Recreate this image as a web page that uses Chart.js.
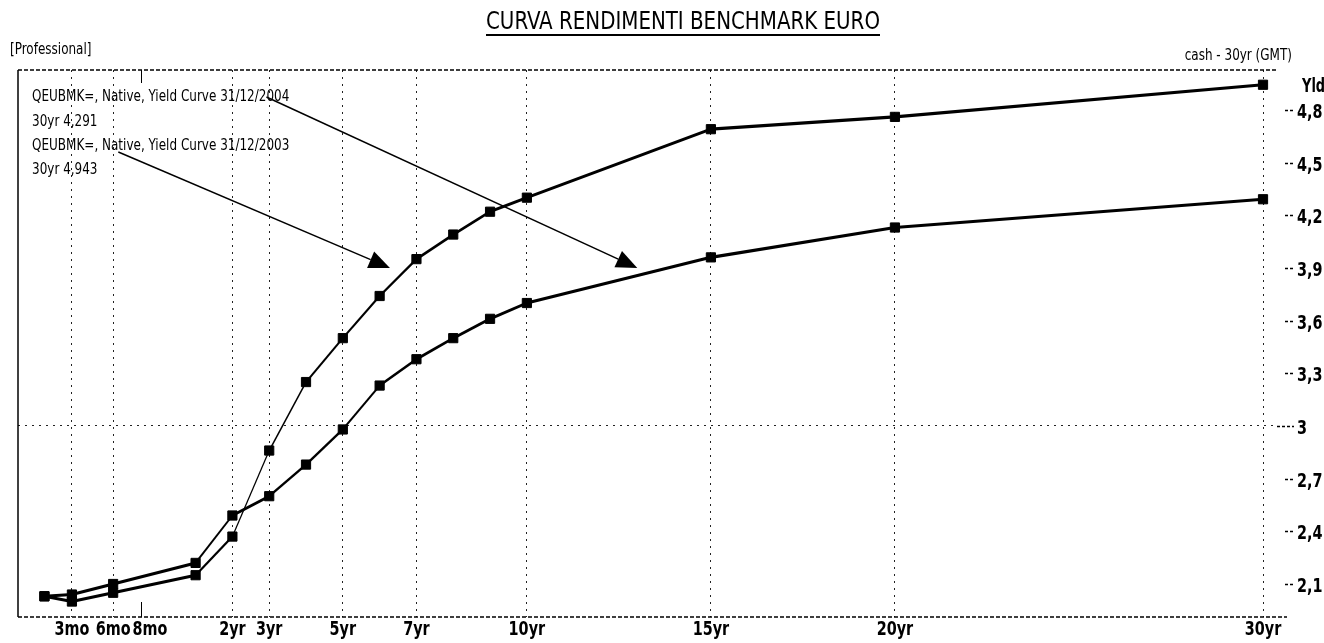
<!DOCTYPE html>
<html>
<head>
<meta charset="utf-8">
<script src="https://cdn.jsdelivr.net/npm/chart.js@4.4.0/dist/chart.umd.min.js"></script>
<style>
  html, body { margin: 0; padding: 0; background: #fff; }
  canvas { display: block; }
</style>
</head>
<body>
<canvas id="myChart" width="1324" height="643"></canvas>
<script>
// maturities (years) of the curve points
const maturityYears = [1 / 12, 0.25, 0.5, 1, 2, 3, 4, 5, 6, 7, 8, 9, 10, 15, 20, 30];
// yields
const yield2004 = [2.03, 2.04, 2.10, 2.22, 2.49, 2.60, 2.78, 2.98, 3.23, 3.38, 3.50, 3.61, 3.70, 3.96, 4.13, 4.291];
const yield2003 = [2.03, 2.00, 2.05, 2.15, 2.37, 2.86, 3.25, 3.50, 3.74, 3.95, 4.09, 4.22, 4.30, 4.69, 4.76, 4.943];

const xTickYears = [0.25, 0.5, 8 / 12, 2, 3, 5, 7, 10, 15, 20, 30];
const xTickLabels = ['3mo', '6mo', '8mo', '2yr', '3yr', '5yr', '7yr', '10yr', '15yr', '20yr', '30yr'];
const yTicks = [2.1, 2.4, 2.7, 3, 3.3, 3.6, 3.9, 4.2, 4.5, 4.8];

const legendLines = [
  'QEUBMK=, Native, Yield Curve 31/12/2004',
  '30yr 4,291',
  'QEUBMK=, Native, Yield Curve 31/12/2003',
  '30yr 4,943',
];

const NARROW = '"Liberation Sans Narrow", "DejaVu Sans Condensed", "Arial Narrow", sans-serif';

// short end of the axis (under 1yr) is stretched like on the original screen
const SHORT_STRETCH = 4.48;
class WarpScale extends Chart.LinearScale {
  static id = 'warp';
  static defaults = Chart.LinearScale.defaults;
  warp(v) {
    return v <= 1 ? v * SHORT_STRETCH : SHORT_STRETCH + (v - 1);
  }
  unwarp(u) {
    return u <= SHORT_STRETCH ? u / SHORT_STRETCH : u - SHORT_STRETCH + 1;
  }
  getPixelForValue(value) {
    const a = this.warp(this.min);
    const b = this.warp(this.max);
    return this.getPixelForDecimal((this.warp(value) - a) / (b - a));
  }
  getValueForPixel(pixel) {
    const a = this.warp(this.min);
    const b = this.warp(this.max);
    return this.unwarp(a + this.getDecimalForPixel(pixel) * (b - a));
  }
}
Chart.register(WarpScale);

const toPoints = (ys) => ys.map((y, i) => ({ x: maturityYears[i], y: y }));

// thinner strokes on steep pieces, like the original renderer
const segWidth = (ctx) => {
  const dx = ctx.p1.x - ctx.p0.x;
  const dy = ctx.p1.y - ctx.p0.y;
  return Math.max(1.2, 3.2 * Math.abs(dx) / Math.hypot(dx, dy));
};

// tall, squeezed text like the old terminal font
function narrowText(ctx, text, x, y, align, font, sx) {
  ctx.save();
  ctx.font = font;
  ctx.textAlign = align;
  ctx.textBaseline = 'middle';
  ctx.translate(x, y);
  ctx.scale(sx, 1);
  ctx.fillText(text, 0, 0);
  ctx.restore();
}

const extras = {
  id: 'extras',
  afterDraw(chart) {
    const { ctx, chartArea: a, scales } = chart;
    const xs = scales.x;
    const ys = scales.y;
    const LABEL_FONT = 'bold 20px ' + NARROW;
    const LABEL_SX = 0.8;
    ctx.save();
    ctx.fillStyle = '#000';
    ctx.strokeStyle = '#000';

    // frame
    ctx.lineWidth = 1.5;
    ctx.setLineDash([]);
    ctx.beginPath();
    ctx.moveTo(a.left, a.top);
    ctx.lineTo(a.left, a.bottom);
    ctx.stroke();
    ctx.setLineDash([4, 2]);
    ctx.beginPath();
    ctx.moveTo(a.left, a.top);
    ctx.lineTo(a.right, a.top);
    ctx.moveTo(a.left, a.bottom);
    ctx.lineTo(a.right + 10, a.bottom);
    ctx.stroke();

    // 8mo short ticks
    ctx.setLineDash([]);
    ctx.lineWidth = 1;
    const x8 = Math.round(xs.getPixelForValue(8 / 12)) + 0.5;
    ctx.beginPath();
    ctx.moveTo(x8, a.top);
    ctx.lineTo(x8, a.top + 13);
    ctx.moveTo(x8, a.bottom - 15);
    ctx.lineTo(x8, a.bottom);
    ctx.stroke();

    // y tick dashes and labels
    yTicks.forEach((v) => {
      const y = Math.round(ys.getPixelForValue(v)) + 0.5;
      ctx.setLineDash([3, 2]);
      ctx.lineWidth = 1.5;
      ctx.beginPath();
      ctx.moveTo(v === 3 ? a.right : a.right + 8, y);
      ctx.lineTo(a.right + 17, y);
      ctx.stroke();
      ctx.setLineDash([]);
      narrowText(ctx, String(v).replace('.', ','), a.right + 20, y + 2, 'left', LABEL_FONT, LABEL_SX);
    });

    // x labels, pushed right when they would collide
    ctx.font = LABEL_FONT;
    let prevRight = -Infinity;
    xTickYears.forEach((v, i) => {
      const w = ctx.measureText(xTickLabels[i]).width * LABEL_SX;
      const cx = Math.max(xs.getPixelForValue(v), prevRight + 2 + w / 2);
      narrowText(ctx, xTickLabels[i], cx, a.bottom + 13, 'center', LABEL_FONT, LABEL_SX);
      prevRight = cx + w / 2;
    });

    // title
    ctx.font = '24px ' + NARROW;
    const title = 'CURVA RENDIMENTI BENCHMARK EURO';
    const tw = ctx.measureText(title).width;
    narrowText(ctx, title, 683, 23, 'center', '24px ' + NARROW, 394 / tw);
    ctx.fillRect(486, 34, 394, 2);

    narrowText(ctx, '[Professional]', 10, 50, 'left', '15px ' + NARROW, 0.89);
    narrowText(ctx, 'cash - 30yr (GMT)', 1292, 56, 'right', '15px ' + NARROW, 0.89);
    narrowText(ctx, 'Yld', 1302, 87, 'left', LABEL_FONT, 0.72);

    // legend text
    const lx = a.left + 14;
    const ly = [a.top + 27, a.top + 52, a.top + 76, a.top + 100];
    legendLines.forEach((t, i) => narrowText(ctx, t, lx, ly[i], 'left', '15px ' + NARROW, 0.89));

    // arrows
    const arrow = (x0, y0, x1, y1) => {
      ctx.lineWidth = 1.5;
      const ang = Math.atan2(y1 - y0, x1 - x0);
      const len = 21;
      const half = 9;
      const bx = x1 - len * Math.cos(ang);
      const by = y1 - len * Math.sin(ang);
      ctx.beginPath();
      ctx.moveTo(x0, y0);
      ctx.lineTo(bx, by);
      ctx.stroke();
      ctx.beginPath();
      ctx.moveTo(x1, y1);
      ctx.lineTo(bx + half * Math.sin(ang), by - half * Math.cos(ang));
      ctx.lineTo(bx - half * Math.sin(ang), by + half * Math.cos(ang));
      ctx.closePath();
      ctx.fill();
    };
    ctx.font = '15px ' + NARROW;
    const sx1 = lx + 0.89 * ctx.measureText('QEUBMK=, Native, Yield Curve 31/12/2').width;
    arrow(sx1, ly[0], xs.getPixelForValue(13.0), ys.getPixelForValue(3.90));
    const sx2 = lx + 0.89 * ctx.measureText('QEUBMK=, Na').width;
    arrow(sx2, ly[2] + 6, xs.getPixelForValue(6.28), ys.getPixelForValue(3.90));

    ctx.restore();
  },
};

const lineDataset = (label, ys) => ({
  label: label,
  data: toPoints(ys),
  borderColor: '#000',
  backgroundColor: '#000',
  borderWidth: 3,
  tension: 0,
  pointStyle: 'rect',
  pointRadius: 6.5,
  pointBackgroundColor: '#000',
  pointBorderColor: '#000',
  pointBorderWidth: 1,
  segment: { borderWidth: segWidth },
});

new Chart(document.getElementById('myChart'), {
  type: 'line',
  data: {
    datasets: [
      lineDataset('31/12/2004', yield2004),
      lineDataset('31/12/2003', yield2003),
    ],
  },
  plugins: [extras],
  options: {
    responsive: false,
    devicePixelRatio: 1,
    animation: false,
    layout: { padding: { top: 70, left: 18, right: 0, bottom: 0 } },
    plugins: {
      legend: { display: false },
      tooltip: { enabled: false },
      title: { display: false },
    },
    scales: {
      x: {
        type: 'warp',
        min: -0.077,
        max: 30.38,
        afterBuildTicks: (s) => {
          s.ticks = xTickYears.map((v) => ({ value: v }));
        },
        afterFit: (s) => {
          s.height = 26;
        },
        ticks: { display: false, autoSkip: false, maxRotation: 0 },
        grid: {
          drawTicks: false,
          lineWidth: 1,
          color: (c) => (c.tick && Math.abs(c.tick.value - 8 / 12) < 1e-6 ? 'rgba(0,0,0,0)' : '#222'),
        },
        border: { display: false, dash: [2, 5] },
      },
      y: {
        type: 'linear',
        position: 'right',
        min: 1.912,
        max: 5.027,
        afterBuildTicks: (s) => {
          s.ticks = yTicks.map((v) => ({ value: v }));
        },
        afterFit: (s) => {
          s.width = 47;
        },
        ticks: { display: false },
        grid: {
          drawTicks: false,
          lineWidth: 1,
          color: (c) => (c.tick && c.tick.value === 3 ? '#222' : 'rgba(0,0,0,0)'),
        },
        border: { display: false, dash: [2, 5] },
      },
    },
  },
});
</script>
</body>
</html>
